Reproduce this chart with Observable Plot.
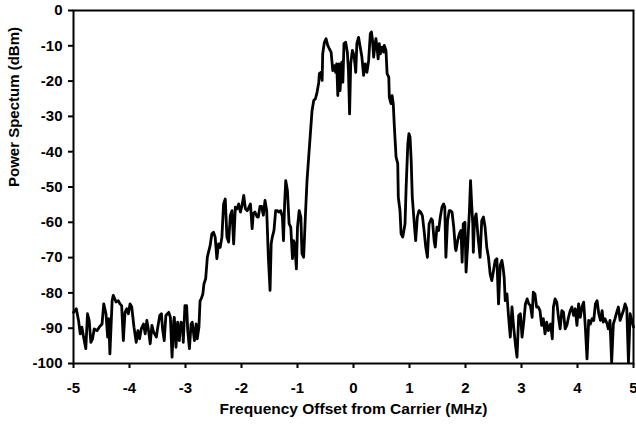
<!DOCTYPE html>
<html>
<head>
<meta charset="utf-8">
<script src="https://cdn.jsdelivr.net/npm/d3@7"></script>
<script src="https://cdn.jsdelivr.net/npm/@observablehq/plot@0.6"></script>
<style>
  html, body { margin: 0; padding: 0; background: #fff; }
</style>
</head>
<body>
<div id="chart"></div>
<script>
const freqMHz = [
  -5.00,-4.95,-4.91,-4.88,-4.85,-4.82,-4.78,-4.75,-4.72,-4.69,-4.66,-4.63,-4.58,-4.54,-4.49,-4.46,-4.42,-4.39,-4.37,-4.35,
  -4.31,-4.29,-4.24,-4.20,-4.17,-4.14,-4.11,-4.08,-4.05,-4.02,-3.99,-3.96,-3.92,-3.88,-3.85,-3.82,-3.79,-3.75,-3.72,-3.69,
  -3.66,-3.63,-3.60,-3.57,-3.52,-3.50,-3.46,-3.43,-3.41,-3.38,-3.35,-3.30,-3.27,-3.24,-3.21,-3.20,-3.17,-3.14,-3.11,-3.08,
  -3.05,-3.04,-3.01,-2.98,-2.96,-2.93,-2.90,-2.88,-2.84,-2.81,-2.79,-2.76,-2.74,-2.72,-2.69,-2.67,-2.64,-2.61,-2.59,-2.56,
  -2.53,-2.50,-2.47,-2.44,-2.41,-2.38,-2.35,-2.32,-2.29,-2.26,-2.23,-2.20,-2.17,-2.14,-2.11,-2.08,-2.05,-2.02,-1.99,-1.96,
  -1.93,-1.90,-1.88,-1.84,-1.81,-1.79,-1.76,-1.72,-1.70,-1.67,-1.64,-1.61,-1.58,-1.55,-1.52,-1.49,-1.47,-1.45,-1.42,-1.39,
  -1.36,-1.33,-1.30,-1.27,-1.25,-1.23,-1.21,-1.18,-1.15,-1.12,-1.09,-1.07,-1.05,-1.02,-1.00,-0.97,-0.94,-0.92,-0.89,-0.86,
  -0.83,-0.80,-0.77,-0.74,-0.71,-0.68,-0.65,-0.62,-0.61,-0.58,-0.56,-0.55,-0.52,-0.49,-0.46,-0.43,-0.40,-0.37,-0.34,-0.32,
  -0.30,-0.28,-0.26,-0.24,-0.21,-0.19,-0.17,-0.14,-0.11,-0.09,-0.07,-0.05,-0.02,0.01,0.04,0.06,0.09,0.12,0.15,0.18,
  0.21,0.24,0.27,0.30,0.32,0.34,0.36,0.38,0.40,0.42,0.44,0.46,0.48,0.51,0.54,0.55,0.58,0.60,0.63,0.64,
  0.67,0.69,0.71,0.73,0.76,0.79,0.80,0.83,0.85,0.88,0.91,0.92,0.94,0.97,0.99,1.01,1.03,1.05,1.09,1.11,
  1.14,1.17,1.20,1.23,1.26,1.29,1.32,1.35,1.39,1.41,1.44,1.46,1.49,1.52,1.55,1.58,1.61,1.63,1.65,1.68,
  1.71,1.73,1.76,1.79,1.82,1.83,1.86,1.89,1.92,1.94,1.96,1.99,2.01,2.04,2.07,2.09,2.11,2.13,2.14,2.16,
  2.19,2.20,2.23,2.26,2.29,2.32,2.35,2.38,2.41,2.44,2.47,2.50,2.53,2.56,2.59,2.62,2.65,2.67,2.69,2.71,
  2.74,2.77,2.80,2.83,2.86,2.89,2.92,2.95,2.98,3.01,3.04,3.07,3.10,3.13,3.16,3.19,3.21,3.24,3.27,3.30,
  3.33,3.36,3.39,3.42,3.45,3.48,3.50,3.52,3.55,3.57,3.60,3.63,3.66,3.69,3.72,3.75,3.78,3.81,3.84,3.87,
  3.90,3.93,3.96,3.99,4.02,4.05,4.08,4.11,4.14,4.17,4.20,4.23,4.26,4.29,4.32,4.35,4.38,4.41,4.44,4.46,
  4.49,4.53,4.55,4.58,4.61,4.64,4.67,4.70,4.73,4.76,4.79,4.82,4.85,4.88,4.91,4.94,4.97,5.00
];
const powerDbm = [
  -85.5,-84.5,-87.8,-91.6,-89.7,-92.5,-95.8,-85.9,-87.8,-94.0,-93.0,-90.2,-90.7,-89.7,-88.8,-83.1,-85.9,-92.5,-87.3,-97.3,
  -82.2,-80.7,-82.6,-82.2,-83.1,-83.6,-93.5,-85.5,-84.5,-85.9,-83.1,-84.0,-89.7,-94.0,-90.7,-93.0,-90.2,-88.8,-91.6,-87.8,
  -90.7,-94.4,-89.2,-91.1,-92.5,-90.2,-86.4,-85.9,-90.2,-93.5,-86.4,-85.5,-86.9,-98.2,-87.8,-86.9,-95.4,-88.3,-93.5,-88.3,
  -88.8,-94.0,-83.6,-83.6,-90.7,-95.8,-88.8,-88.3,-93.5,-88.8,-93.0,-89.7,-82.2,-81.7,-80.3,-77.4,-76.0,-69.9,-68.5,-66.6,
  -63.3,-62.8,-64.2,-70.3,-66.1,-67.1,-64.2,-54.8,-53.4,-64.2,-65.6,-58.1,-56.7,-66.1,-55.7,-56.2,-54.8,-57.1,-55.2,-52.4,
  -56.2,-56.7,-56.2,-54.8,-61.8,-57.6,-57.1,-58.5,-58.5,-55.5,-55.5,-58.0,-53.8,-56.7,-70.0,-79.3,-66.1,-64.2,-62.3,-56.7,
  -56.7,-57.1,-56.7,-58.5,-65.2,-54.8,-48.2,-51.0,-60.4,-61.4,-70.3,-65.2,-66.1,-73.2,-61.4,-56.7,-58.5,-68.9,-69.9,-58.5,
  -48.2,-41.5,-34.9,-28.3,-25.5,-25.0,-23.1,-20.3,-17.9,-17.5,-19.8,-12.3,-9.0,-8.0,-9.9,-10.9,-11.8,-17.0,-15.6,-17.5,
  -15.1,-24.1,-15.1,-22.7,-14.6,-20.3,-9.4,-9.0,-11.8,-17.0,-29.3,-15.1,-11.3,-12.7,-17.5,-9.4,-7.6,-10.4,-13.2,-18.4,
  -15.1,-17.5,-14.2,-6.6,-6.1,-8.5,-13.2,-10.4,-8.0,-10.4,-13.7,-9.4,-12.3,-10.4,-11.8,-9.9,-11.3,-17.9,-18.9,-24.6,
  -26.4,-24.1,-26.4,-33.0,-41.5,-43.4,-52.9,-56.7,-63.3,-64.2,-61.4,-60.4,-50.0,-37.8,-34.9,-35.9,-42.5,-52.9,-61.4,-65.2,
  -58.5,-56.7,-57.1,-58.1,-62.3,-67.0,-69.9,-60.4,-59.0,-59.5,-65.2,-67.0,-61.4,-62.3,-58.5,-55.7,-54.8,-55.7,-69.9,-59.5,
  -56.7,-56.7,-57.1,-61.4,-67.5,-68.0,-65.2,-63.3,-62.3,-71.3,-60.4,-60.0,-74.1,-66.1,-56.7,-48.2,-54.8,-60.4,-68.5,-59.5,
  -57.6,-59.5,-65.2,-69.9,-59.5,-58.5,-61.4,-67.1,-69.9,-74.6,-76.5,-73.7,-70.8,-70.3,-83.1,-72.2,-70.8,-72.7,-75.5,-82.2,
  -80.3,-86.9,-92.5,-84.0,-89.7,-94.4,-98.2,-86.4,-85.9,-92.5,-88.3,-83.1,-81.7,-83.1,-83.6,-86.9,-79.8,-80.3,-84.0,-84.0,
  -85.0,-89.2,-87.3,-91.6,-88.3,-90.7,-89.7,-88.8,-93.0,-84.0,-81.7,-82.6,-86.9,-90.2,-85.0,-85.5,-90.2,-89.2,-86.9,-85.0,
  -84.0,-86.4,-84.5,-89.2,-83.1,-86.9,-84.0,-82.6,-89.7,-98.7,-87.8,-88.8,-87.3,-87.8,-83.1,-82.2,-85.9,-87.8,-85.0,-88.3,
  -87.3,-88.8,-90.2,-87.8,-99.8,-88.8,-87.3,-85.5,-84.0,-87.8,-86.4,-85.0,-83.1,-84.5,-99.8,-85.9,-87.8,-89.7
];
const xTicks = [-5,-4,-3,-2,-1,0,1,2,3,4,5];
const yTicks = [-100,-90,-80,-70,-60,-50,-40,-30,-20,-10,0];
const xLabel = "Frequency Offset from Carrier (MHz)";
const yLabel = "Power Spectum (dBm)";

const data = freqMHz.map((f, i) => ({f, p: powerDbm[i]}));
const fmt = d => String(d);

const chart = Plot.plot({
  width: 636,
  height: 427,
  marginLeft: 73,
  marginRight: 3,
  marginTop: 10,
  marginBottom: 64,
  style: {fontFamily: "'Liberation Sans', Arial, sans-serif", fontSize: "15px", fontWeight: "bold", color: "black", background: "white"},
  x: {domain: [-5, 5]},
  y: {domain: [-100, 0]},
  marks: [
    Plot.axisX({ticks: xTicks, tickFormat: fmt, tickSize: 5, tickPadding: 14, strokeWidth: 2, label: null}),
    Plot.axisY({ticks: yTicks, tickFormat: fmt, tickSize: 5, tickPadding: 6, strokeWidth: 2, label: null}),
    Plot.frame({stroke: "black", strokeWidth: 2}),
    Plot.line(data, {x: "f", y: "p", stroke: "black", strokeWidth: 2.8, strokeLinejoin: "round"}),
    Plot.text([xLabel], {frameAnchor: "bottom", dy: 50, text: d => d, fontSize: 15.5, fontWeight: "bold"}),
    Plot.text([yLabel], {frameAnchor: "left", dx: -59, rotate: -90, text: d => d, fontSize: 15, fontWeight: "bold"})
  ]
});
document.getElementById("chart").appendChild(chart);
</script>
</body>
</html>
